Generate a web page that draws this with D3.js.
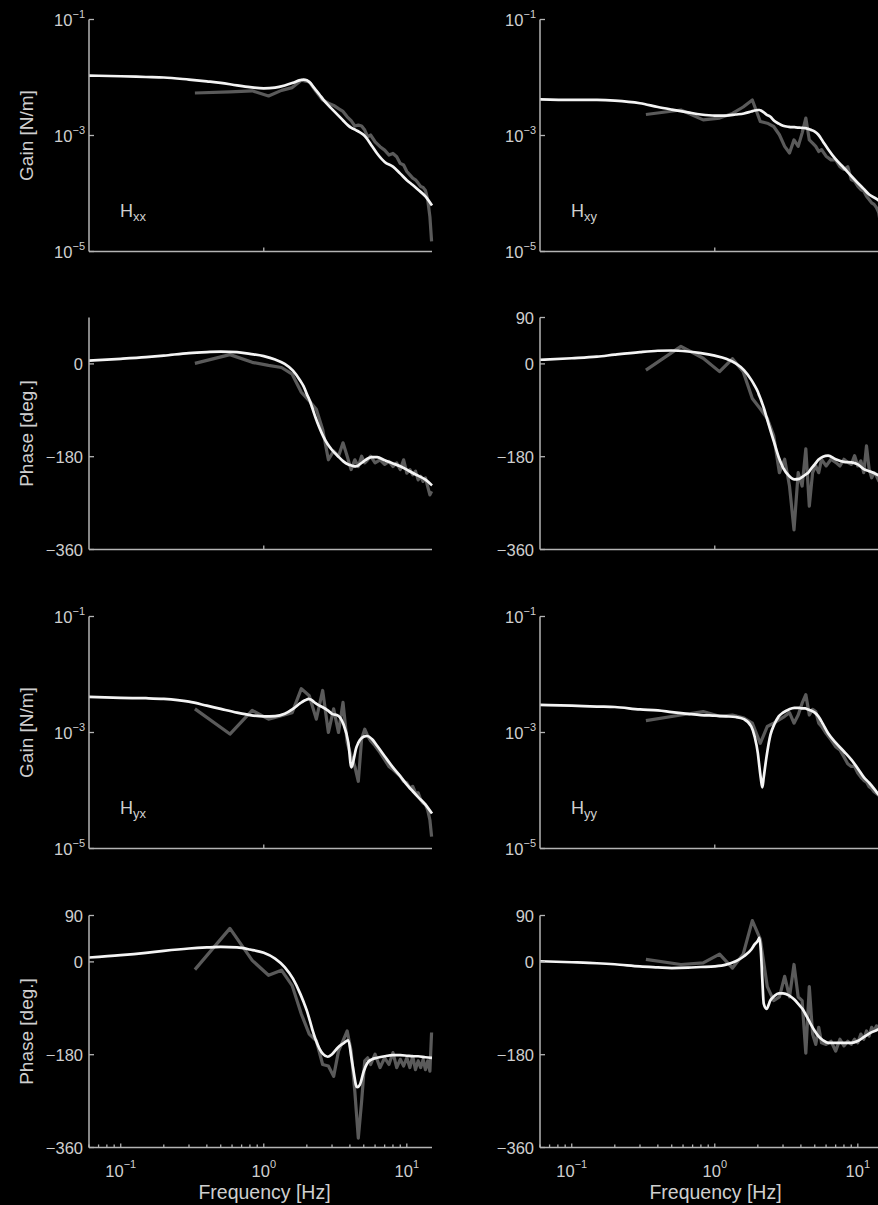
<!DOCTYPE html>
<html>
<head>
<meta charset="utf-8">
<script src="https://cdn.jsdelivr.net/npm/d3@7"></script>
<style>
  body { margin: 0; background: #000; }
  svg { display: block; }
  text { font-family: "Liberation Sans", Arial, Helvetica, sans-serif; fill: #cfcfcf; }
</style>
</head>
<body>
<div id="chart"></div>
<script>
(function () {

  // frequency grid of the fitted model (white) and of the measurement (grey), in Hz
  var fitFreq = [0.06, 0.1, 0.15, 0.2, 0.3, 0.4, 0.5, 0.65, 0.8, 1.0, 1.2, 1.4, 1.6, 1.8, 1.9, 2.0, 2.05, 2.1, 2.15, 2.2,
    2.3, 2.45, 2.6, 2.8, 3.0, 3.3, 3.6, 3.9, 4.1, 4.3, 4.4, 4.5, 4.7, 5.0, 5.3, 5.7, 6.2, 7.0, 8.0, 9.0, 10, 11, 12, 13.5, 15];
  var measFreq = [0.33, 0.58, 0.83, 1.08, 1.33, 1.58, 1.83, 2.08, 2.33, 2.58, 2.83, 3.08, 3.33, 3.58, 3.83, 4.08, 4.33, 4.58,
    4.83, 5.08, 5.33, 5.58, 6.0, 6.5, 7.0, 7.5, 8.0, 8.5, 9.0, 9.5, 10.0, 10.5, 11.0, 11.5, 12.0, 12.5, 13.0, 13.5, 14.0, 14.5, 14.9];

  // H_xx
  var gainFitXX = [1.08e-2, 1.05e-2, 1.02e-2, 1.0e-2, 9.2e-3, 8.6e-3, 8.1e-3, 7.3e-3, 6.8e-3, 6.5e-3, 6.7e-3, 7.3e-3, 8.1e-3,
    9.0e-3, 9.2e-3, 9.0e-3, 8.6e-3, 8.2e-3, 7.7e-3, 7.1e-3, 6.2e-3, 5.1e-3, 4.2e-3, 3.4e-3, 2.85e-3, 2.25e-3, 1.8e-3, 1.48e-3,
    1.35e-3, 1.28e-3, 1.24e-3, 1.21e-3, 1.13e-3, 1.02e-3, 8.6e-4, 6.6e-4, 4.9e-4, 3.5e-4, 2.9e-4, 2.2e-4, 1.7e-4, 1.4e-4,
    1.16e-4, 8.9e-5, 6.2e-5];
  var gainMeasXX = [5.4e-3, 5.65e-3, 5.9e-3, 4.8e-3, 6.0e-3, 6.7e-3, 9.0e-3, 8.4e-3, 5.65e-3, 4.1e-3, 3.6e-3, 3.3e-3, 2.9e-3,
    2.6e-3, 2.1e-3, 1.8e-3, 1.46e-3, 1.51e-3, 1.46e-3, 1.24e-3, 9.5e-4, 1.02e-3, 7.8e-4, 6.4e-4, 5.6e-4, 4.6e-4, 4.9e-4, 4.3e-4,
    3.3e-4, 3.1e-4, 2.4e-4, 2.1e-4, 1.84e-4, 1.72e-4, 1.51e-4, 1.32e-4, 1.27e-4, 1.13e-4, 7.8e-5, 4.0e-5, 1.5e-5];
  var phaseFitXX = [6.5, 9.8, 13, 16, 21, 23, 24, 23, 19.5, 15, 8.5, 0, -13, -32.6, -43.6, -58.6, -65, -71.6, -80, -88, -104,
    -123.7, -140, -156, -167, -179, -189, -195, -197, -198.6, -198.6, -198, -194.6, -189, -184, -181, -181, -187, -193, -198.6,
    -205, -211.6, -216.8, -224.6, -235.7];
  var phaseMeasXX = [1, 18, 3, -3, -7, -20, -55, -72, -88, -127, -186, -169, -179, -153, -179, -205, -186, -199, -179, -192,
    -186, -179, -192, -186, -195, -189, -199, -192, -205, -186, -212, -205, -215, -208, -225, -218, -228, -221, -238, -254, -247];

  // H_xy
  var gainFitXY = [4.2e-3, 4.1e-3, 4.1e-3, 4.0e-3, 3.6e-3, 3.1e-3, 2.8e-3, 2.5e-3, 2.3e-3, 2.2e-3, 2.2e-3, 2.3e-3, 2.4e-3,
    2.6e-3, 2.7e-3, 2.75e-3, 2.75e-3, 2.7e-3, 2.6e-3, 2.5e-3, 2.3e-3, 2.1e-3, 1.8e-3, 1.6e-3, 1.47e-3, 1.41e-3, 1.39e-3,
    1.37e-3, 1.35e-3, 1.34e-3, 1.32e-3, 1.30e-3, 1.25e-3, 1.17e-3, 1.03e-3, 7.9e-4, 5.8e-4, 3.9e-4, 2.75e-4, 2.0e-4, 1.52e-4,
    1.2e-4, 9.6e-5, 8.1e-5, 6.5e-5];
  var gainMeasXY = [2.3e-3, 2.75e-3, 1.86e-3, 2.0e-3, 2.4e-3, 3.1e-3, 4.1e-3, 1.74e-3, 1.63e-3, 1.43e-3, 1.03e-3, 6.5e-4,
    5.0e-4, 8.4e-4, 6.5e-4, 1.1e-3, 2.0e-3, 8.4e-4, 7.4e-4, 6.5e-4, 5.3e-4, 5.7e-4, 4.4e-4, 3.8e-4, 3.8e-4, 2.9e-4, 2.6e-4,
    2.9e-4, 1.74e-4, 1.63e-4, 1.34e-4, 1.17e-4, 1.1e-4, 9.0e-5, 7.9e-5, 6.9e-5, 6.5e-5, 5.7e-5, 4.7e-5, 2.75e-5, 1.6e-5];
  var phaseFitXY = [8, 11, 14, 18, 23, 25.5, 26, 24, 21, 16, 10, 1, -12, -31, -42, -54, -62, -69, -77, -85, -103, -129, -152,
    -181, -201, -217, -224, -223, -219, -215, -213, -211, -204, -195, -186, -180, -178, -185, -190, -191, -195, -204, -208,
    -214, -221];
  var phaseMeasXY = [-12, 34, 11, -15, 10, -15, -67, -87, -106, -139, -211, -185, -237, -322, -211, -237, -165, -276, -211,
    -198, -211, -185, -198, -185, -191, -198, -185, -191, -195, -178, -198, -188, -211, -159, -204, -221, -211, -217, -227,
    -224, -230];

  // H_yx
  var gainFitYX = [4.1e-3, 3.95e-3, 3.9e-3, 3.8e-3, 3.4e-3, 2.9e-3, 2.55e-3, 2.2e-3, 2.0e-3, 1.9e-3, 1.92e-3, 2.1e-3, 2.55e-3,
    3.2e-3, 3.5e-3, 3.7e-3, 3.8e-3, 3.75e-3, 3.65e-3, 3.5e-3, 3.2e-3, 2.9e-3, 2.7e-3, 2.4e-3, 2.1e-3, 1.95e-3, 1.4e-3, 6.7e-4,
    2.5e-4, 3.9e-4, 5.1e-4, 6.0e-4, 7.4e-4, 8.5e-4, 8.7e-4, 7.7e-4, 5.9e-4, 3.9e-4, 2.5e-4, 1.76e-4, 1.26e-4, 9.7e-5, 7.7e-5,
    5.7e-5, 4.0e-5];
  var gainMeasYX = [2.55e-3, 9.4e-4, 2.4e-3, 1.7e-3, 1.95e-3, 2.2e-3, 5.7e-3, 4.3e-3, 1.7e-3, 5.3e-3, 1.0e-3, 2.55e-3, 1.0e-3,
    3.3e-3, 6.7e-4, 3.9e-4, 2.6e-4, 1.44e-4, 7.7e-4, 1.14e-3, 8.7e-4, 7.2e-4, 5.9e-4, 4.5e-4, 3.4e-4, 2.6e-4, 2.3e-4, 2.0e-4,
    1.76e-4, 1.44e-4, 1.35e-4, 1.1e-4, 1.18e-4, 9.1e-5, 9.1e-5, 6.9e-5, 6.1e-5, 5.7e-5, 4.6e-5, 3.1e-5, 1.6e-5];
  var phaseFitYX = [8.5, 13, 17.6, 21.5, 26, 28, 29, 28, 24, 17.6, 6.5, -10, -32.6, -62, -78, -94.5, -104, -114, -124, -134,
    -150, -168, -179, -184, -179, -166, -158, -152, -186, -222, -238, -243, -238, -212, -196, -189, -186, -183, -181, -181,
    -182, -183, -183, -185, -186];
  var phaseMeasYX = [-15, 65, 3, -26, -16, -46, -101, -140, -153, -199, -202, -222, -173, -153, -134, -173, -251, -342, -271,
    -192, -186, -199, -179, -205, -186, -199, -176, -205, -189, -202, -186, -205, -183, -209, -192, -205, -189, -209, -192,
    -212, -137];

  // H_yy
  var gainFitYY = [3.0e-3, 2.9e-3, 2.8e-3, 2.75e-3, 2.5e-3, 2.4e-3, 2.25e-3, 2.1e-3, 2.0e-3, 1.95e-3, 1.9e-3, 1.85e-3, 1.7e-3,
    1.27e-3, 8.5e-4, 4.4e-4, 2.6e-4, 1.6e-4, 1.13e-4, 1.7e-4, 3.8e-4, 9.1e-4, 1.36e-3, 1.9e-3, 2.2e-3, 2.5e-3, 2.65e-3,
    2.65e-3, 2.6e-3, 2.6e-3, 2.55e-3, 2.5e-3, 2.4e-3, 2.2e-3, 1.9e-3, 1.41e-3, 9.7e-4, 6.7e-4, 4.7e-4, 3.4e-4, 2.4e-4, 1.7e-4,
    1.36e-4, 9.5e-5, 6.8e-5];
  var gainMeasYY = [1.6e-3, 2.0e-3, 2.3e-3, 1.9e-3, 2.0e-3, 1.8e-3, 1.45e-3, 6.5e-4, 1.27e-3, 1.45e-3, 1.66e-3, 1.9e-3, 2.2e-3,
    1.45e-3, 2.0e-3, 3.2e-3, 4.5e-3, 2.0e-3, 2.5e-3, 2.3e-3, 1.45e-3, 1.27e-3, 9.7e-4, 7.5e-4, 5.7e-4, 5.0e-4, 3.8e-4, 2.9e-4,
    2.6e-4, 2.6e-4, 2.0e-4, 1.7e-4, 1.5e-4, 1.4e-4, 1.16e-4, 1.08e-4, 9.5e-5, 8.9e-5, 8.3e-5, 6.8e-5, 5.2e-5];
  var phaseFitYY = [1.3, -0.7, -2.6, -4.6, -8.6, -10.5, -11.9, -11.2, -9.9, -8.6, -5.3, 1.3, 11, 24, 34, 41, 47, 21, -35, -81,
    -91, -74.5, -66.6, -61, -61, -65, -73, -84, -91, -101, -106, -111, -121, -134, -144, -152, -157, -157, -157, -157, -153.5,
    -146, -139, -132.5, -127];
  var phaseMeasYY = [5, -5, -2, 15, -12, 15, 80, 44, -48, -75, -68, -28, -68, -5, -68, -75, -177, -48, -140, -160, -127, -157,
    -160, -154, -173, -150, -163, -154, -160, -150, -157, -140, -150, -134, -144, -127, -134, -124, -127, -121, -124];

  // tick values and labels
  var gainTicks = [1e-1, 1e-3, 1e-5],
    gainTickExp = ["\u22121", "\u22123", "\u22125"],
    phaseTicks = [90, 0, -180, -360],
    phaseTickLabels = ["90", "0", "\u2212180", "\u2212360"],
    freqTicks = [0.1, 1, 10],
    freqTickExp = ["\u22121", "0", "1"],
    freqMinorTicks = [0.06, 0.07, 0.08, 0.09, 0.2, 0.3, 0.4, 0.5, 0.6, 0.7, 0.8, 0.9, 2, 3, 4, 5, 6, 7, 8, 9];

  var w = 878,
    h = 1205,
    colLeft = [89, 540],
    plotW = 343,
    rowTop = [19.5, 317.5, 616.5, 915.5],
    plotH = 232,
    axisColor = "#b4b4b4",
    measColor = "#5a5a5a",
    fitColor = "#f4f4f4",
    svg;

  // one entry per subplot, built from the arrays above
  var panels = [
    { row: 0, col: 0, kind: "gain", fit: gainFitXX, meas: gainMeasXX, sub: "xx" },
    { row: 0, col: 1, kind: "gain", fit: gainFitXY, meas: gainMeasXY, sub: "xy" },
    { row: 1, col: 0, kind: "phase", fit: phaseFitXX, meas: phaseMeasXX, skip90: true },
    { row: 1, col: 1, kind: "phase", fit: phaseFitXY, meas: phaseMeasXY },
    { row: 2, col: 0, kind: "gain", fit: gainFitYX, meas: gainMeasYX, sub: "yx" },
    { row: 2, col: 1, kind: "gain", fit: gainFitYY, meas: gainMeasYY, sub: "yy" },
    { row: 3, col: 0, kind: "phase", fit: phaseFitYX, meas: phaseMeasYX },
    { row: 3, col: 1, kind: "phase", fit: phaseFitYY, meas: phaseMeasYY }
  ];

  function createSvg() {
    svg = d3.select("#chart")
      .append("svg")
      .attr("width", w)
      .attr("height", h);
    svg.append("rect").attr("width", w).attr("height", h).attr("fill", "#000");
  }

  function drawPanel(p) {
    var left = colLeft[p.col],
      top = rowTop[p.row],
      bottom = top + plotH,
      g = svg.append("g");

    var x = d3.scaleLog().domain([0.06, 15]).range([left, left + plotW]);
    var y = p.kind === "gain"
      ? d3.scaleLog().domain([1e-5, 1e-1]).range([bottom, top])
      : d3.scaleLinear().domain([-360, 90]).range([bottom, top]);

    // measured response first, model fit on top
    var lineMeas = d3.line()
      .x(function(d, i) { return x(measFreq[i]); })
      .y(function(d) { return y(d); });
    var lineFit = d3.line()
      .x(function(d, i) { return x(fitFreq[i]); })
      .y(function(d) { return y(d); })
      .curve(d3.curveMonotoneX);

    g.append("path")
      .datum(p.meas)
      .attr("d", lineMeas)
      .attr("fill", "none")
      .attr("stroke", measColor)
      .attr("stroke-width", 3.2)
      .attr("stroke-linejoin", "round");

    g.append("path")
      .datum(p.fit)
      .attr("d", lineFit)
      .attr("fill", "none")
      .attr("stroke", fitColor)
      .attr("stroke-width", 2.7)
      .attr("stroke-linejoin", "round");

    drawAxes(g, p, x, y, left, top, bottom);
  }

  function drawAxes(g, p, x, y, left, top, bottom) {
    g.append("line")
      .attr("x1", left).attr("x2", left)
      .attr("y1", top).attr("y2", bottom)
      .attr("stroke", axisColor).attr("stroke-width", 1.5);
    g.append("line")
      .attr("x1", left).attr("x2", left + plotW)
      .attr("y1", bottom).attr("y2", bottom)
      .attr("stroke", axisColor).attr("stroke-width", 1.5);

    // y ticks and labels
    var yTicks, labels;
    if (p.kind === "gain") {
      yTicks = gainTicks;
    } else {
      yTicks = phaseTicks.filter(function(t) { return !(p.skip90 && t === 90); });
    }
    g.selectAll(".ytick")
      .data(yTicks).enter()
      .append("line")
        .attr("x1", left).attr("x2", left + 5)
        .attr("y1", function(d) { return y(d); })
        .attr("y2", function(d) { return y(d); })
        .attr("stroke", axisColor).attr("stroke-width", 1.3);

    labels = g.selectAll(".ylab")
      .data(yTicks).enter()
      .append("text")
        .attr("x", left - 4)
        .attr("y", function(d) { return y(d) + 6; })
        .attr("text-anchor", "end")
        .style("font-size", "16.5px");

    if (p.kind === "gain") {
      labels.append("tspan").text("10");
      labels.append("tspan")
        .attr("dy", -8)
        .style("font-size", "11px")
        .text(function(d) { return gainTickExp[gainTicks.indexOf(d)]; });
    } else {
      labels.text(function(d) { return phaseTickLabels[phaseTicks.indexOf(d)]; })
        .attr("x", left - 6);
    }

    // x ticks: only the decade mark on the upper rows, full log ticks on the bottom row
    if (p.row < 3) {
      g.append("line")
        .attr("x1", x(1)).attr("x2", x(1))
        .attr("y1", bottom).attr("y2", bottom - 4)
        .attr("stroke", axisColor).attr("stroke-width", 1.3);
    } else {
      g.selectAll(".xminor")
        .data(freqMinorTicks).enter()
        .append("line")
          .attr("x1", function(d) { return x(d); })
          .attr("x2", function(d) { return x(d); })
          .attr("y1", bottom).attr("y2", bottom - 3)
          .attr("stroke", axisColor).attr("stroke-width", 1.3);
      g.selectAll(".xmajor")
        .data(freqTicks).enter()
        .append("line")
          .attr("x1", function(d) { return x(d); })
          .attr("x2", function(d) { return x(d); })
          .attr("y1", bottom).attr("y2", bottom - 4)
          .attr("stroke", axisColor).attr("stroke-width", 1.3);
      var xl = g.selectAll(".xlab")
        .data(freqTicks).enter()
        .append("text")
          .attr("x", function(d) { return x(d); })
          .attr("y", bottom + 29)
          .attr("text-anchor", "middle")
          .style("font-size", "16.5px");
      xl.append("tspan").text("10");
      xl.append("tspan")
        .attr("dy", -9)
        .style("font-size", "11px")
        .text(function(d, i) { return freqTickExp[i]; });

      g.append("text")
        .attr("x", left + plotW / 2 + 4)
        .attr("y", bottom + 51)
        .attr("text-anchor", "middle")
        .style("font-size", "19.5px")
        .text("Frequency [Hz]");
    }

    // y axis title on the left column
    if (p.col === 0) {
      g.append("text")
        .attr("transform", "translate(" + (left - 56) + "," + (top + plotH / 2) + ") rotate(-90)")
        .attr("text-anchor", "middle")
        .style("font-size", "19px")
        .text(p.kind === "gain" ? "Gain [N/m]" : "Phase [deg.]");
    }

    // transfer function name
    if (p.sub) {
      var t = g.append("text")
        .attr("x", left + 31)
        .attr("y", top + 197)
        .style("font-size", "18px");
      t.append("tspan").text("H");
      t.append("tspan").attr("dy", 4).style("font-size", "13px").text(p.sub);
    }
  }

  createSvg();
  panels.forEach(drawPanel);
})();
</script>
</body>
</html>
